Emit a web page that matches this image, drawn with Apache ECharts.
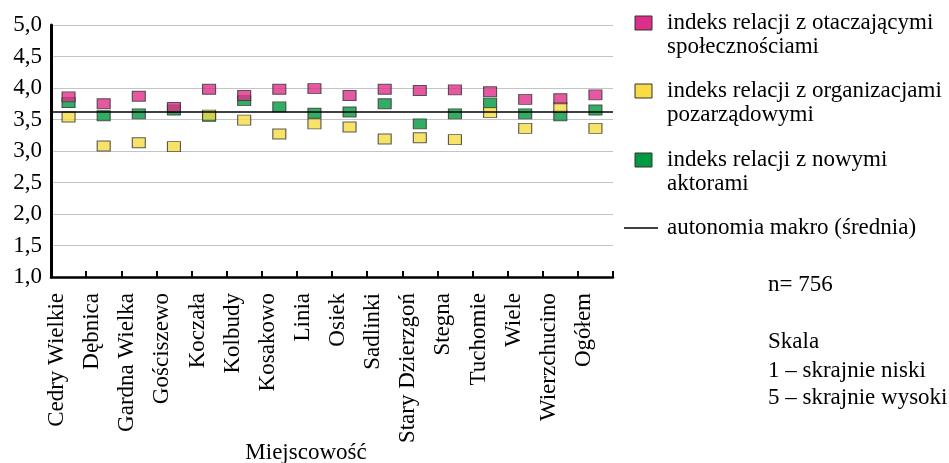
<!DOCTYPE html>
<html><head><meta charset="utf-8">
<script src="https://cdn.jsdelivr.net/npm/echarts@6/dist/echarts.min.js"></script>
<style>html,body{margin:0;padding:0;background:#fff;overflow:hidden}#c{width:949px;height:463px}</style>
</head><body><div id="c"></div>
<script>
const categories = ['Cedry Wielkie','Dębnica','Gardna Wielka','Gościszewo','Koczała','Kolbudy','Kosakowo','Linia','Osiek','Sadlinki','Stary Dzierzgoń','Stegna','Tuchomie','Wiele','Wierzchucino','Ogółem'];
const otaczajace = [3.86,3.75,3.87,3.69,3.98,3.88,3.98,3.99,3.88,3.98,3.96,3.97,3.94,3.82,3.83,3.89];
const pozarzadowe = [3.54,3.08,3.13,3.07,3.57,3.49,3.27,3.43,3.38,3.19,3.21,3.18,3.61,3.36,3.69,3.36];
const nowiAktorzy = [3.77,3.56,3.59,3.65,3.55,3.80,3.70,3.60,3.62,3.75,3.43,3.59,3.76,3.59,3.56,3.65];
const autonomiaMakro = 3.63;
const xAxisTitle = 'Miejscowość';
const seriesNames = ['indeks relacji z otaczającymi\nspołecznościami','indeks relacji z organizacjami\npozarządowymi','indeks relacji z nowymi\naktorami','autonomia makro (średnia)'];
const notes = ['n= 756','Skala','1 – skrajnie niski','5 – skrajnie wysoki'];

const FONT = '"Liberation Serif", "Times New Roman", serif';
const PINK = '#DE2F88', YELLOW = '#F6DC45', GREEN = '#00993F';
const chart = echarts.init(document.getElementById('c'));
const ms = {type:'scatter', symbol:'rect', symbolSize:[13,10]};
const border = {borderColor:'#333', borderWidth:1};
const txt = (x,y,t)=>({type:'text', left:x, top:y, style:{text:t, font:'23px '+FONT, fill:'#000', lineHeight:24}});
chart.setOption({
  animation:false,
  grid:{left:51, width:562, top:25, height:252, outerBoundsMode:'none', containLabel:false},
  xAxis:{type:'category', data:categories, boundaryGap:true,
    axisLine:{lineStyle:{color:'#000', width:2.5}},
    axisTick:{show:true, inside:true, length:6, lineStyle:{color:'#000', width:2}},
    axisLabel:{rotate:90, interval:0, margin:16, fontFamily:FONT, fontSize:23, color:'#000', verticalAlign:'bottom'}
  },
  yAxis:{type:'value', min:1, max:5, interval:0.5,
    axisLine:{show:true, lineStyle:{color:'#000', width:3}},
    axisTick:{show:false},
    splitLine:{lineStyle:{color:'#c4c4c4', width:1.2}},
    axisLabel:{margin:9, fontFamily:FONT, fontSize:23, color:'#000', formatter:v=>v.toFixed(1).replace('.',',')}
  },
  series:[
    Object.assign({name:seriesNames[2], data:nowiAktorzy, itemStyle:Object.assign({color:GREEN},border)}, ms),
    Object.assign({name:seriesNames[1], data:pozarzadowe, itemStyle:Object.assign({color:YELLOW},border)}, ms),
    Object.assign({name:seriesNames[0], data:otaczajace, itemStyle:Object.assign({color:PINK},border),
      markLine:{silent:true, symbol:'none', label:{show:false}, lineStyle:{color:'#000', width:1.5, type:'solid'},
        data:[{yAxis:autonomiaMakro, name:seriesNames[3]}]}}, ms)
  ],
  graphic:[
    {type:'text', x:306, y:453, style:{text:xAxisTitle, font:'23px '+FONT, fill:'#000', align:'center', verticalAlign:'middle'}},
    {type:'rect', shape:{x:635,y:16,width:17,height:14}, style:{fill:PINK, stroke:'#333', lineWidth:1}},
    txt(667,11,seriesNames[0]),
    {type:'rect', shape:{x:635,y:84,width:17,height:14}, style:{fill:YELLOW, stroke:'#333', lineWidth:1}},
    txt(667,79,seriesNames[1]),
    {type:'rect', shape:{x:635,y:153,width:17,height:14}, style:{fill:GREEN, stroke:'#333', lineWidth:1}},
    txt(667,148,seriesNames[2]),
    {type:'line', shape:{x1:624,y1:228,x2:658,y2:228}, style:{stroke:'#000', lineWidth:1.5}},
    txt(667,216,seriesNames[3]),
    txt(768,273,notes[0]),
    txt(768,330,notes[1]),
    txt(768,359,notes[2]),
    txt(768,386,notes[3])
  ]
});
</script></body></html>
